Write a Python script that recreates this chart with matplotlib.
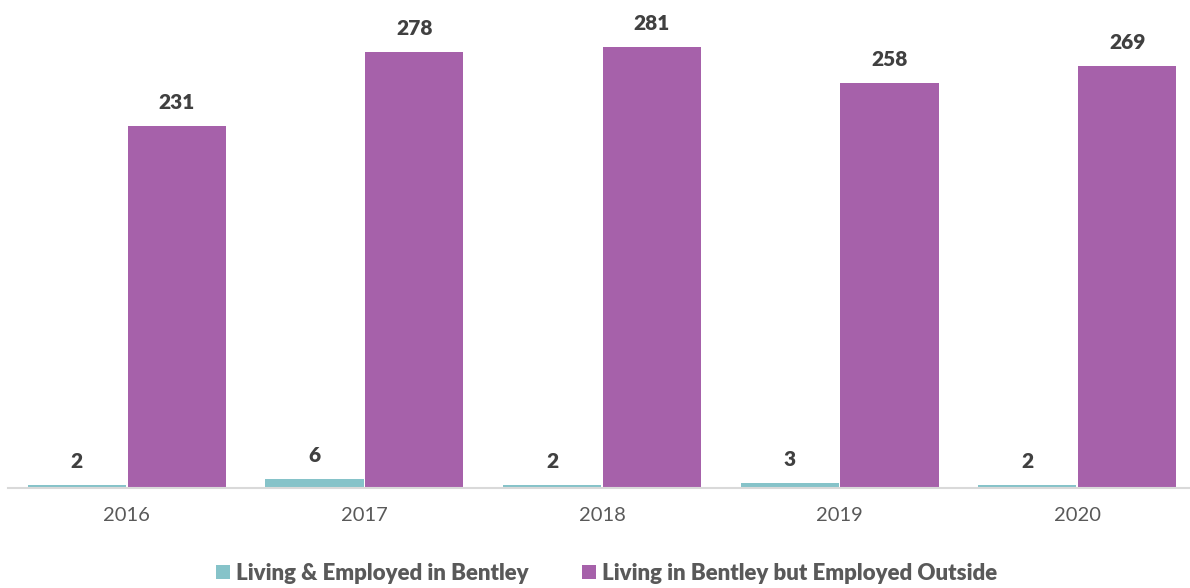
import matplotlib
matplotlib.use("Agg")
import matplotlib.pyplot as plt
import numpy as np

years = ["2016", "2017", "2018", "2019", "2020"]
living_employed = [2, 6, 2, 3, 2]
living_outside = [231, 278, 281, 258, 269]
series_names = ["Living & Employed in Bentley", "Living in Bentley but Employed Outside"]
colors = ["#86C3C9", "#A661AA"]

plt.rcParams['font.family'] = ['Lato', 'DejaVu Sans']

fig = plt.figure(figsize=(11.9, 5.88), dpi=100)
W, H = 1190, 588
left, right = 8, 1196
base, top = 488, 17.3
ax = fig.add_axes([left / W, 1 - base / H, (right - left) / W, (base - top) / H])

x = np.arange(len(years))
bw = 0.413
off = 0.21
b1 = ax.bar(x - off, living_employed, bw, color=colors[0], label=series_names[0])
b2 = ax.bar(x + off, living_outside, bw, color=colors[1], label=series_names[1])

for bars, vals in ((b1, living_employed), (b2, living_outside)):
    for r, v in zip(bars, vals):
        ax.annotate(str(v), (r.get_x() + r.get_width() / 2, r.get_height()),
                    xytext=(0, 10), textcoords="offset points", ha="center", va="bottom",
                    fontsize=15, fontweight="heavy", color="#404040", annotation_clip=False)

ax.set_xlim(-0.5, len(years) - 0.5)
ax.set_ylim(0, 300)
ax.set_xticks(x)
ax.set_xticklabels(years, fontsize=14.5, color="#595959")
ax.tick_params(axis="x", length=0, pad=14)
ax.set_yticks([])
for s in ["top", "right", "left"]:
    ax.spines[s].set_visible(False)
ax.spines["bottom"].set_color("#D9D9D9")
ax.spines["bottom"].set_linewidth(1.5)

leg = fig.legend(handles=[b1, b2], labels=series_names, loc="center", bbox_to_anchor=(607 / W, 1 - 573 / H),
                 ncol=2, frameon=False, handlelength=0.6, handleheight=0.6, handletextpad=0.3,
                 columnspacing=2.4, prop={"size": 16, "weight": "heavy"})
for t in leg.get_texts():
    t.set_color("#595959")

fig.savefig("out.png", dpi=100)
